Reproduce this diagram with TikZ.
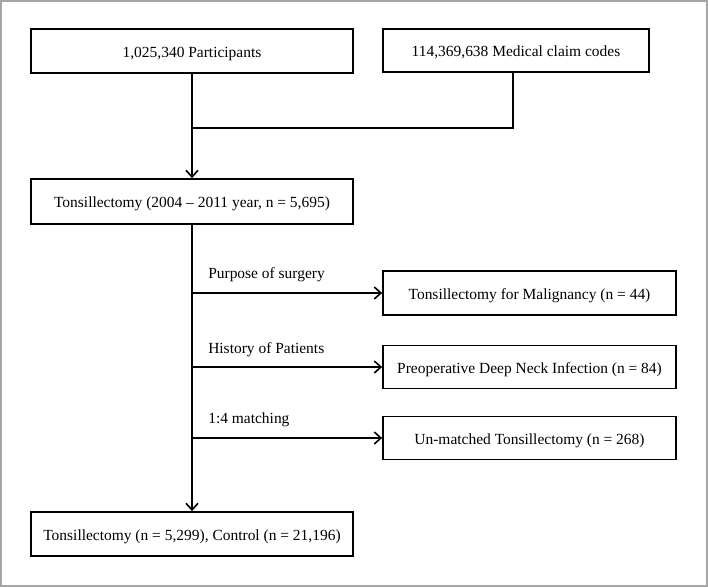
\documentclass[tikz,border=0pt]{standalone}
\usepackage{fontspec}
\setmainfont{Liberation Serif}
\usetikzlibrary{arrows.meta}
\begin{document}
\begin{tikzpicture}[x=0.75pt,y=-0.75pt,
  box/.style={draw=black,line width=1.3pt,rectangle,align=center,inner sep=0pt,text height=12pt,text depth=2.6pt,font=\fontsize{11.6}{13}\selectfont},
  lbl/.style={anchor=west,inner sep=0pt,font=\fontsize{11.6}{13}\selectfont},
  conn/.style={line width=1.3pt},
  arr/.style={conn,-{Straight Barb[length=5pt,width=9pt,line width=1.2pt]}}]
\useasboundingbox (0,0) rectangle (708,587);
\draw[gray!70,line width=1.2pt] (0.8,0.8) rectangle (707.2,586);
\node[box,minimum width=241.5pt,minimum height=33pt] (b1) at (192,51) {1,025,340 Participants};
\node[box,minimum width=199.5pt,minimum height=32.25pt] (b2) at (516,50.5) {114,369,638 Medical claim codes};
\node[box,minimum width=241.5pt,minimum height=33.75pt] (b3) at (192,201.5) {Tonsillectomy (2004 -- 2011 year, n = 5,695)};
\node[box,minimum width=241.5pt,minimum height=33pt] (b4) at (192,534) {Tonsillectomy (n = 5,299), Control (n = 21,196)};
\node[box,minimum width=219.75pt,minimum height=33pt] (b5) at (529.5,293) {Tonsillectomy for Malignancy (n = 44)};
\node[box,minimum width=219.75pt,minimum height=32.25pt] (b6) at (529.5,367) {Preoperative Deep Neck Infection (n = 84)};
\node[box,minimum width=219.75pt,minimum height=32.25pt] (b7) at (529.5,438) {Un-matched Tonsillectomy (n = 268)};
\node[lbl] (l1) at (208,275) {Purpose of surgery};
\node[lbl] (l2) at (208,350) {History of Patients};
\node[lbl] (l3) at (208,420) {1:4 matching};
\coordinate (j) at (192,128);
\draw[conn] ([xshift=-2.25pt]b2.south) |- (j);
\draw[arr] (b1.south) -- (b3.north);
\draw[arr] (b3.south) -- (b4.north);
\draw[arr] (b5.west -| b3.south) -- (b5.west);
\draw[arr] (b6.west -| b3.south) -- (b6.west);
\draw[arr] (b7.west -| b3.south) -- (b7.west);
\end{tikzpicture}
\end{document}
